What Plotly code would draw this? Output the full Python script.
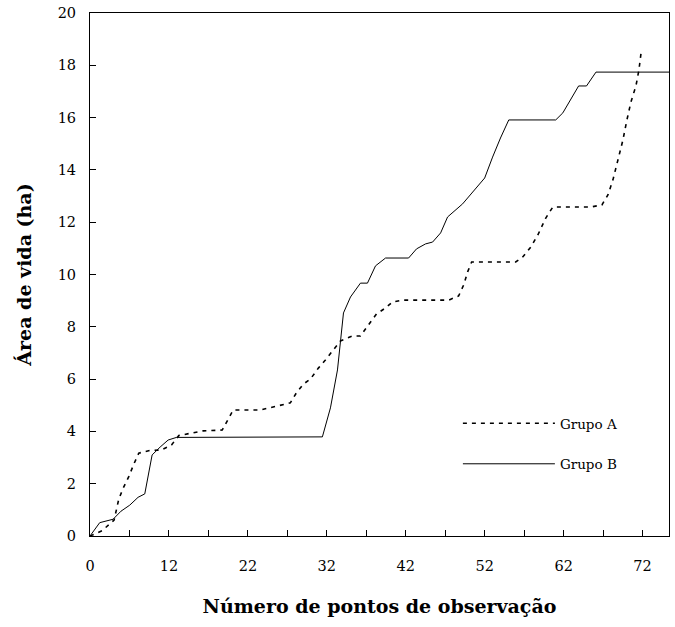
import plotly.graph_objects as go

# Group B (solid) — observation index vs home-range area (ha)
obs_b = [0, 1.23, 2.92, 3.93, 5.04, 6.09, 6.94, 7.87, 8.88, 9.9, 10.95, 29.44, 30.46, 31.35,
         32.11, 33.0, 34.26, 35.15, 36.17, 37.44, 40.36, 41.37, 42.51, 43.4, 44.42, 45.3,
         47.2, 48.6, 50.0, 51.0, 52.0, 53.05, 59.0, 59.9, 60.9, 61.9, 62.9, 64.1, 73.35]
area_b = [0, 0.51, 0.64, 0.95, 1.18, 1.48, 1.61, 3.1, 3.40, 3.67, 3.77, 3.79, 4.9, 6.35,
          8.53, 9.14, 9.67, 9.67, 10.33, 10.63, 10.63, 10.98, 11.17, 11.24, 11.59, 12.2,
          12.7, 13.19, 13.69, 14.49, 15.22, 15.91, 15.91, 16.18, 16.71, 17.21, 17.21, 17.74, 17.74]

# Group A (dashed)
obs_a = [0, 1.52, 3.05, 3.64, 4.19, 4.91, 5.54, 6.18, 7.57, 9.05, 10.32, 11.25, 12.94, 14.34, 16.75,
         17.51, 18.15, 21.57, 23.86, 25.38, 26.14, 27.03, 27.92, 28.93, 29.82, 30.84, 31.73,
         33.25, 34.26, 35.28, 36.29, 37.44, 38.32, 39.59, 45.43, 46.7, 47.34, 47.84, 48.35,
         53.93, 54.82, 55.84, 56.73, 57.74, 58.63, 63.45, 64.85, 65.61, 66.24, 66.88, 67.51,
         68.02, 68.53, 69.16, 69.54, 69.8]
area_a = [0, 0.2, 0.61, 1.4, 1.82, 2.27, 2.74, 3.17, 3.27, 3.29, 3.48, 3.84, 3.94, 4.02, 4.05,
          4.44, 4.82, 4.82, 4.97, 5.09, 5.47, 5.81, 6.0, 6.42, 6.73, 7.11, 7.46,
          7.65, 7.65, 8.07, 8.49, 8.72, 8.95, 9.02, 9.02, 9.18, 9.6, 10.1, 10.48,
          10.48, 10.67, 11.05, 11.51, 12.16, 12.58, 12.58, 12.66, 13.04, 13.61, 14.38, 15.14,
          15.91, 16.6, 17.21, 17.82, 18.45]

x_tickvals = [0, 5, 10, 15, 20, 25, 30, 35, 40, 45, 50, 55, 60, 65, 70]
x_ticktext = ["0", "", "12", "", "22", "", "32", "", "42", "", "52", "", "62", "", "72"]
y_tickvals = [0, 2, 4, 6, 8, 10, 12, 14, 16, 18, 20]

FONT = "DejaVu Serif"

fig = go.Figure()
fig.add_trace(go.Scatter(x=obs_a, y=area_a, mode="lines", name="Grupo A", legendgroup="a",
                         line=dict(color="black", width=1.6, dash="4px,5px")))
fig.add_trace(go.Scatter(x=obs_b, y=area_b, mode="lines", name="Grupo B", legendgroup="b",
                         line=dict(color="black", width=1)))

fig.update_layout(
    width=675, height=627,
    margin=dict(l=90, r=6, t=13, b=91, autoexpand=False),
    paper_bgcolor="white", plot_bgcolor="white",
    font=dict(family=FONT, size=15, color="black"),
    showlegend=True,
    legend=dict(x=0.6354, y=0.2448, xanchor="left", yanchor="top",
                bgcolor="rgba(0,0,0,0)", itemwidth=92, tracegroupgap=20,
                font=dict(family=FONT, size=13.5), traceorder="grouped"),
    xaxis=dict(range=[0, 73.35], tickmode="array", tickvals=x_tickvals, ticktext=x_ticktext,
               ticks="inside", ticklen=6, tickcolor="black", showgrid=False, zeroline=False,
               showline=True, linecolor="black", linewidth=1, mirror=True, automargin=False,
               ticklabelstandoff=17, ticklabeloverflow="allow",
               tickfont=dict(family=FONT, size=14.5),
               title=dict(text="<b>Número de pontos de observação</b>", standoff=26,
                          font=dict(family=FONT, size=19))),
    yaxis=dict(range=[0, 20], tickmode="array", tickvals=y_tickvals,
               ticks="inside", ticklen=6, tickcolor="black", showgrid=False, zeroline=False,
               showline=True, linecolor="black", linewidth=1, mirror=True, automargin=False,
               ticklabelstandoff=10, ticklabeloverflow="allow",
               tickfont=dict(family=FONT, size=14.5),
               title=dict(text="<b>Área de vida (ha)</b>", standoff=20,
                          font=dict(family=FONT, size=19))),
)

fig.write_html("out.html", config={"displayModeBar": False},
               post_script="document.body.style.margin='0';")
